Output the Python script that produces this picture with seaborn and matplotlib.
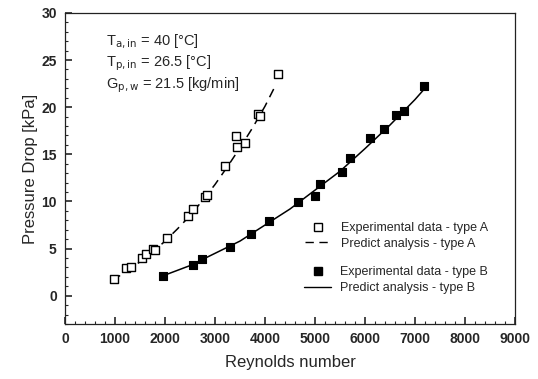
import matplotlib
matplotlib.use("Agg")
import matplotlib.pyplot as plt
from matplotlib.lines import Line2D
from matplotlib.ticker import MultipleLocator
import seaborn as sns
import pandas as pd

# ---- data ----
re_exp_a = [980, 1220, 1320, 1540, 1620, 1760, 1800, 2040, 2460, 2560, 2800, 2830, 3200, 3420, 3440, 3600, 3860, 3900, 4270]
dp_exp_a = [1.8, 2.9, 3.1, 4.0, 4.4, 5.0, 4.8, 6.1, 8.5, 9.2, 10.5, 10.7, 13.8, 16.9, 15.8, 16.2, 19.3, 19.1, 23.5]

re_pred_a = [950, 1250, 1500, 1750, 2000, 2250, 2500, 2750, 3000, 3250, 3500, 3750, 4000, 4200]
dp_pred_a = [1.6, 2.7, 3.6, 4.6, 5.8, 7.1, 8.5, 10.1, 11.8, 13.7, 15.7, 17.8, 20.1, 22.2]

re_exp_b = [1950, 2560, 2740, 3300, 3720, 4080, 4660, 5000, 5110, 5540, 5700, 6100, 6380, 6620, 6790, 7190]
dp_exp_b = [2.1, 3.3, 3.9, 5.2, 6.5, 7.9, 9.9, 10.6, 11.9, 13.1, 14.6, 16.7, 17.7, 19.2, 19.6, 22.2]

re_pred_b = [1950, 2500, 3000, 3500, 4000, 4500, 5000, 5500, 6000, 6500, 7000, 7200]
dp_pred_b = [2.1, 3.2, 4.5, 5.8, 7.5, 9.2, 11.2, 13.2, 15.6, 18.1, 20.8, 22.0]

legend_labels = ["Experimental data - type A", "Predict analysis - type A",
                 "Experimental data - type B", "Predict analysis - type B"]
x_label = "Reynolds number"
y_label = "Pressure Drop [kPa]"

sns.set_style("ticks")
plt.rcParams["font.family"] = ["Liberation Sans", "DejaVu Sans"]

fig = plt.figure(figsize=(5.38, 3.79), dpi=100)
ax = fig.add_axes([0.121, 0.145, 0.836, 0.821])

df_ea = pd.DataFrame({"re": re_exp_a, "dp": dp_exp_a})
df_pa = pd.DataFrame({"re": re_pred_a, "dp": dp_pred_a})
df_eb = pd.DataFrame({"re": re_exp_b, "dp": dp_exp_b})
df_pb = pd.DataFrame({"re": re_pred_b, "dp": dp_pred_b})

sns.lineplot(data=df_pa, x="re", y="dp", ax=ax, color="black", lw=1.1,
             linestyle=(0, (6, 4)), sort=True, estimator=None)
sns.lineplot(data=df_pb, x="re", y="dp", ax=ax, color="black", lw=1.1,
             sort=True, estimator=None)
sns.scatterplot(data=df_ea, x="re", y="dp", ax=ax, marker="s", s=40,
                facecolor="white", edgecolor="black", linewidth=1.0, zorder=3)
sns.scatterplot(data=df_eb, x="re", y="dp", ax=ax, marker="s", s=40,
                color="black", edgecolor="black", linewidth=0.8, zorder=3)

ax.set_xlim(0, 9000)
ax.set_ylim(-3, 30)
ax.xaxis.set_major_locator(MultipleLocator(1000))
ax.xaxis.set_minor_locator(MultipleLocator(200))
ax.yaxis.set_major_locator(MultipleLocator(5))
ax.yaxis.set_minor_locator(MultipleLocator(1))
ax.tick_params(which="major", direction="in", length=5, width=1.2, labelsize=10,
               pad=6, top=False, right=False)
ax.tick_params(which="minor", direction="in", length=2.5, width=0.8,
               top=False, right=False)
for lab in ax.get_xticklabels() + ax.get_yticklabels():
    lab.set_fontweight("bold")
for sp in ax.spines.values():
    sp.set_linewidth(0.9)
    sp.set_color("#222222")

ax.set_xlabel(x_label, fontsize=12, labelpad=6)
ax.set_ylabel(y_label, fontsize=12, labelpad=2)

ax.text(0.092, 0.908, r"T$_{\rm a,in}$ = 40 [°C]", transform=ax.transAxes, fontsize=10.5, va="center")
ax.text(0.092, 0.838, r"T$_{\rm p,in}$ = 26.5 [°C]", transform=ax.transAxes, fontsize=10.5, va="center")
ax.text(0.092, 0.768, r"G$_{\rm p,w}$ = 21.5 [kg/min]", transform=ax.transAxes, fontsize=10.5, va="center")

handles_a = [
    Line2D([], [], marker="s", markersize=6, markerfacecolor="white", markeredgecolor="black", linestyle="none"),
    Line2D([], [], color="black", lw=1.0, linestyle=(0, (6, 4))),
]
handles_b = [
    Line2D([], [], marker="s", markersize=6, markerfacecolor="black", markeredgecolor="black", linestyle="none"),
    Line2D([], [], color="black", lw=1.0),
]
leg_kw = dict(frameon=False, fontsize=9, handlelength=2.2, handletextpad=0.7,
              labelspacing=0.3, borderaxespad=0, borderpad=0)
leg_a = ax.legend(handles_a, legend_labels[:2], loc="center right",
                  bbox_to_anchor=(0.94, 0.283), **leg_kw)
ax.add_artist(leg_a)
ax.legend(handles_b, legend_labels[2:], loc="center right",
          bbox_to_anchor=(0.94, 0.141), **leg_kw)

fig.savefig("out.png", dpi=100)
